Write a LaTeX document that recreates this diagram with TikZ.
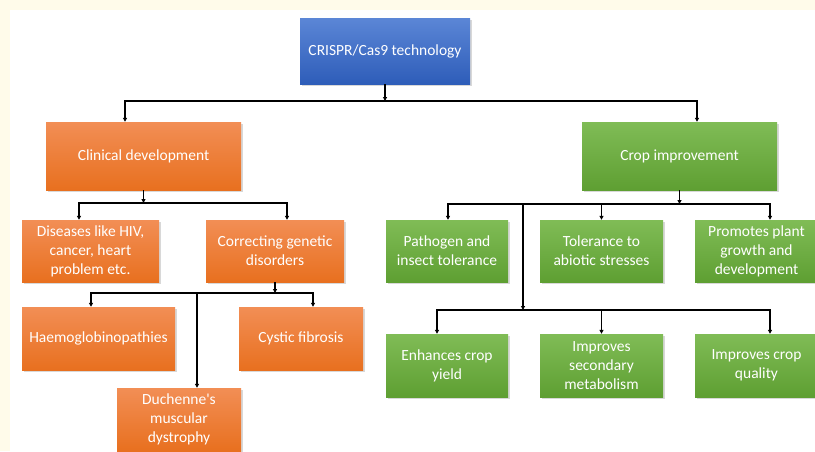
\documentclass[tikz,border=0pt]{standalone}
\usepackage{fontspec}
\setmainfont{Carlito}
\usetikzlibrary{calc, shapes, shadows, arrows.meta}
\definecolor{cream}{HTML}{FFFBEA}
\definecolor{blueT}{HTML}{5B86D6}
\definecolor{blueB}{HTML}{2E5DB9}
\definecolor{orangeT}{HTML}{F28E55}
\definecolor{orangeB}{HTML}{E8701F}
\definecolor{greenT}{HTML}{80BC56}
\definecolor{greenB}{HTML}{5E9F32}

\begin{document}
\begin{tikzpicture}[
  x = 1pt, y = -1pt,
  box/.style = {rectangle, text = white, align = center, inner sep = 2pt,
    font = \fontsize{15.5}{19}\selectfont,
    drop shadow = {opacity = 0.3, shadow xshift = 1.5pt, shadow yshift = -1.5pt}},
  tech/.style = {box, top color = blueT, bottom color = blueB},
  clinic/.style = {box, top color = orangeT, bottom color = orangeB},
  crop/.style = {box, top color = greenT, bottom color = greenB},
  link/.style = {line width = 1.1pt, -{Triangle[length = 4pt, width = 4pt]}}
]
\clip (0,0) rectangle (815,451);
\fill[cream] (0,0) rectangle (815,451);
\fill[white] (10,10) rectangle (815,451);

% top
\node[tech, minimum width = 170pt, minimum height = 66pt] (root) at (385,51)
  {CRISPR/Cas9 technology};
\node[clinic, minimum width = 195pt, minimum height = 68pt] (clin) at (143.5,156)
  {Clinical development};
\node[crop, minimum width = 195pt, minimum height = 68pt] (cropimp) at (679.5,156)
  {Crop improvement};

% clinical side
\node[clinic, minimum width = 137pt, minimum height = 62pt] (dis) at (90.5,251)
  {Diseases like HIV,\\cancer, heart\\problem etc.};
\node[clinic, minimum width = 138pt, minimum height = 62pt] (corr) at (275,251)
  {Correcting genetic\\disorders};
\node[clinic, minimum width = 153pt, minimum height = 63pt] (haemo) at (98.5,338.5)
  {Haemoglobinopathies};
\node[clinic, minimum width = 124pt, minimum height = 63pt] (cyst) at (301,338.5)
  {Cystic fibrosis};
\node[clinic, minimum width = 124pt, minimum height = 63pt] (duch) at (179,419.5)
  {Duchenne\textquotesingle s\\muscular\\dystrophy};

% crop side
\node[crop, minimum width = 122pt, minimum height = 62pt] (path) at (447,251)
  {Pathogen and\\insect tolerance};
\node[crop, minimum width = 123pt, minimum height = 62pt] (tol) at (601.5,251)
  {Tolerance to\\abiotic stresses};
\node[crop, minimum width = 123pt, minimum height = 62pt] (prom) at (756.5,251)
  {Promotes plant\\growth and\\development};
\node[crop, minimum width = 122pt, minimum height = 63pt] (enh) at (447,365.5)
  {Enhances crop\\yield};
\node[crop, minimum width = 123pt, minimum height = 63pt] (sec) at (601.5,365.5)
  {Improves\\secondary\\metabolism};
\node[crop, minimum width = 123pt, minimum height = 63pt] (qual) at (756.5,365.5)
  {Improves crop\\quality};

% connectors
\coordinate (rj) at (385,101);
\draw[link] (root) -- (rj);
\draw[link] (rj) -| ([xshift = -18.5pt]clin.north);
\draw[link] (rj) -| ([xshift = 17.5pt]cropimp.north);

\coordinate (cj) at (143.5,203);
\draw[link] (clin) -- (cj);
\draw[link] (cj) -| ([xshift = -11.5pt]dis.north);
\draw[link] (cj) -| ([xshift = 12pt]corr.north);

\coordinate (gj) at (275,293);
\draw[link] (corr) -- (gj);
\draw[link] (gj) -| ([xshift = -7.5pt]haemo.north);
\draw[link] (gj) -| ([xshift = 12pt]cyst.north);
\draw[link] (gj) -| ([xshift = 18pt]duch.north);

\coordinate (pj) at (679.5,204);
\coordinate (qj) at (523,310);
\draw[link] (cropimp) -- (pj);
\draw[link] (pj) -| ([xshift = 1pt]path.north);
\draw[link] (pj) -| (tol.north);
\draw[link] (pj) -| ([xshift = 13.5pt]prom.north);
\draw[link] (pj) -| (qj);
\draw[link] (qj) -| ([xshift = -10pt]enh.north);
\draw[link] (qj) -| (sec.north);
\draw[link] (qj) -| ([xshift = 13.5pt]qual.north);
\end{tikzpicture}
\end{document}
